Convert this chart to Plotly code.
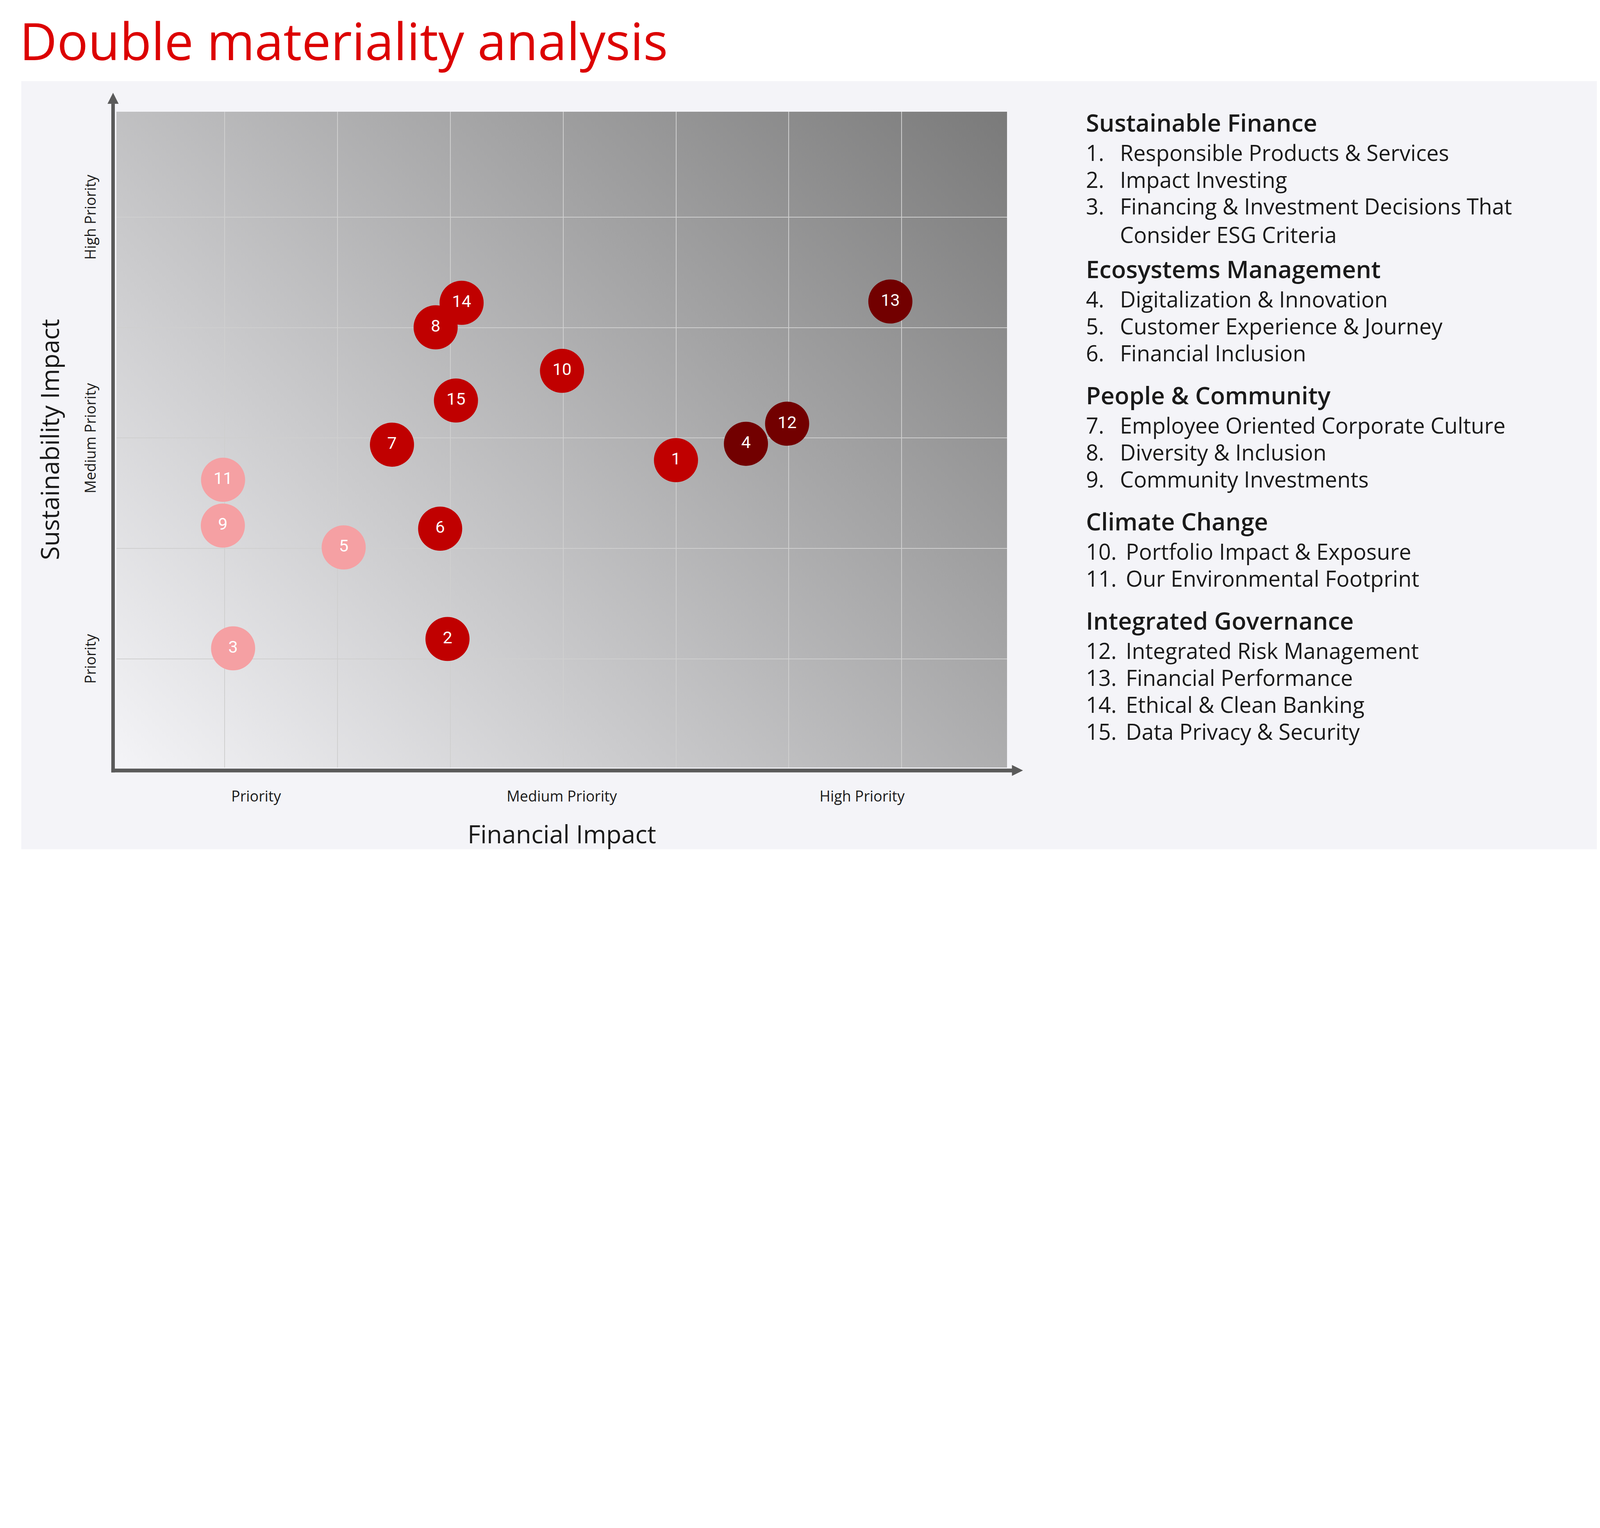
import base64
import plotly.graph_objects as go

# ---------------- data ----------------
topic_ids = [1, 2, 3, 4, 5, 6, 7, 8, 9, 10, 11, 12, 13, 14, 15]
financial_impact = [5.00, 2.975, 1.075, 5.62, 2.055, 2.91, 2.483, 2.87, 0.984, 3.99, 0.986, 5.985, 6.90, 3.10, 3.05]
sustainability_impact = [2.80, 1.18, 1.095, 2.948, 2.009, 2.179, 2.94, 4.003, 2.207, 3.609, 2.622, 3.13, 4.237, 4.225, 3.34]
topic_level = ["mid", "mid", "low", "top", "low", "mid", "mid", "mid", "low", "mid", "low", "top", "top", "mid", "mid"]

grid_x = [1, 2, 3, 4, 5, 6, 7]
grid_y = [1, 2, 3, 4, 5]
x_label_vals = [1.28, 3.99, 6.65]
x_label_text = ["Priority", "Medium Priority", "High Priority"]
y_label_vals = [1, 3, 5]
y_label_text = ["Priority", "Medium Priority", "High Priority"]

title_text = "Double materiality analysis"
x_title = "Financial Impact"
y_title = "Sustainability Impact"

group_names = ["Sustainable Finance", "Ecosystems Management", "People & Community",
               "Climate Change", "Integrated Governance"]
item_group = [0, 0, 0, 1, 1, 1, 2, 2, 2, 3, 3, 4, 4, 4, 4]
item_text = [
    "Responsible Products & Services",
    "Impact Investing",
    "Financing & Investment Decisions That<br>Consider ESG Criteria",
    "Digitalization & Innovation",
    "Customer Experience & Journey",
    "Financial Inclusion",
    "Employee Oriented Corporate Culture",
    "Diversity & Inclusion",
    "Community Investments",
    "Portfolio Impact & Exposure",
    "Our Environmental Footprint",
    "Integrated Risk Management",
    "Financial Performance",
    "Ethical & Clean Banking",
    "Data Privacy & Security",
]

# ---------------- style / geometry ----------------
# geometry is laid out in reference pixels (7190 wide); D = reference px per CSS px
D = 1.7536
BODY = 8  # default page margin (CSS px)
FWc, FHc = 4084, 2215  # figure size in CSS px
L, R, T, B = 523, 4520, 501.5, 3445  # plot area in reference px
PW, PH = R - L, B - T
x_range = [0.0407, 7.934]
y_range = [0.0155, 5.956]

level_color = {"top": "#720000", "mid": "#C00000", "low": "#F5A0A3"}
AXIS_C = "#5A5A5A"
PANEL_C = "#F4F4F8"
TEXT_C = "#1A1A1A"
FONT = "Open Sans"
ITEM_SIZE = 98
HEAD_SIZE = 108


def sz(v):
    return v / D


def px(x):
    return (x - L) / PW


def py(y):
    return (B - y) / PH


# gradient background as an SVG image
svg = (
    f'<svg xmlns="http://www.w3.org/2000/svg" width="{PW}" height="{PH}" '
    f'viewBox="0 0 {PW} {PH}" preserveAspectRatio="none">'
    f'<defs><linearGradient id="g" gradientUnits="userSpaceOnUse" x1="0" y1="{PH}" '
    f'x2="{(PW + PH) / 2}" y2="{PH - (PW + PH) / 2}">'
    f'<stop offset="0" stop-color="#F4F4F7"/><stop offset="1" stop-color="#7A7A7A"/>'
    f'</linearGradient></defs><rect width="{PW}" height="{PH}" fill="url(#g)"/></svg>'
)
svg_uri = "data:image/svg+xml;base64," + base64.b64encode(svg.encode()).decode()

fig = go.Figure()
fig.add_trace(go.Scatter(
    x=financial_impact, y=sustainability_impact,
    mode="markers+text",
    text=[str(i) for i in topic_ids],
    textposition="middle center",
    textfont=dict(family="Roboto", size=sz(76), color="white"),
    marker=dict(size=sz(198), color=[level_color[l] for l in topic_level], line=dict(width=0), opacity=1),
    hoverinfo="skip", showlegend=False, cliponaxis=False,
))

shapes = []
# panel
shapes.append(dict(type="rect", xref="paper", yref="paper", x0=px(96), x1=px(7400), y0=py(3812), y1=py(364.5),
                   fillcolor=PANEL_C, line=dict(width=0), layer="below"))
# axes with arrows
shapes.append(dict(type="rect", xref="paper", yref="paper", x0=px(500), x1=px(516), y0=py(3467), y1=py(465),
                   fillcolor=AXIS_C, line=dict(width=0), layer="above"))
shapes.append(dict(type="path", xref="paper", yref="paper",
                   path=f"M {px(483)} {py(466)} L {px(533)} {py(466)} L {px(508)} {py(416.6)} Z",
                   fillcolor=AXIS_C, line=dict(width=0), layer="above"))
shapes.append(dict(type="rect", xref="paper", yref="paper", x0=px(500), x1=px(4543), y0=py(3467), y1=py(3450),
                   fillcolor=AXIS_C, line=dict(width=0), layer="above"))
shapes.append(dict(type="path", xref="paper", yref="paper",
                   path=f"M {px(4542)} {py(3433.5)} L {px(4542)} {py(3482.5)} L {px(4591.7)} {py(3458)} Z",
                   fillcolor=AXIS_C, line=dict(width=0), layer="above"))

ann = []
# title
ann.append(dict(text=title_text, x=px(84), y=py(180), xref="paper", yref="paper", xanchor="left",
                yanchor="middle", showarrow=False, font=dict(family=FONT, size=sz(232), color="#DC0000")))
# tick labels
for v, t in zip(x_label_vals, x_label_text):
    ann.append(dict(text=t, x=v, xref="x", y=py(3572), yref="paper", xanchor="center", yanchor="middle",
                    showarrow=False, font=dict(family=FONT, size=sz(66), color=TEXT_C)))
for v, t in zip(y_label_vals, y_label_text):
    ann.append(dict(text=t, y=v, yref="y", x=px(405), xref="paper", xanchor="center", yanchor="middle",
                    textangle=-90, showarrow=False, font=dict(family=FONT, size=sz(66), color=TEXT_C)))
# axis titles
ann.append(dict(text=x_title, x=0.5, xref="paper", y=py(3743), yref="paper", xanchor="center", yanchor="middle",
                showarrow=False, font=dict(family=FONT, size=sz(112), color=TEXT_C)))
ann.append(dict(text=y_title, y=0.5, yref="paper", x=px(222), xref="paper", xanchor="center", yanchor="middle",
                textangle=-90, showarrow=False, font=dict(family=FONT, size=sz(112), color=TEXT_C)))

# right-hand list
NUM_X, TXT_X1, TXT_X2 = 4870, 5024, 5050
LINE_H = 1.3 * ITEM_SIZE
cur = 548.7
gap = 0
for g, gname in enumerate(group_names):
    cur += gap
    ann.append(dict(text=gname, x=px(NUM_X), y=py(cur), xref="paper", yref="paper", xanchor="left",
                    yanchor="middle", showarrow=False,
                    font=dict(family=FONT, size=sz(HEAD_SIZE), color=TEXT_C, weight=600)))
    first = True
    for i, (gi, txt) in enumerate(zip(item_group, item_text)):
        if gi != g:
            continue
        cur += 135 if first else 120.5
        first = False
        num = topic_ids[i]
        ann.append(dict(text=f"{num}.", x=px(NUM_X), y=py(cur), xref="paper", yref="paper", xanchor="left",
                        yanchor="middle", showarrow=False, font=dict(family=FONT, size=sz(ITEM_SIZE), color=TEXT_C)))
        n_lines = txt.count("<br>") + 1
        extra = (n_lines - 1) * LINE_H
        tx = TXT_X1 if num < 10 else TXT_X2
        ann.append(dict(text=txt, x=px(tx), y=py(cur + extra / 2), xref="paper", yref="paper",
                        xanchor="left", yanchor="middle", align="left", showarrow=False,
                        font=dict(family=FONT, size=sz(ITEM_SIZE), color=TEXT_C)))
        cur += extra
    gap = 190 if n_lines == 1 else 155

fig.update_layout(
    width=FWc, height=FHc,
    margin=dict(l=L / D - BODY, r=FWc - (R / D - BODY), t=T / D - BODY, b=FHc - (B / D - BODY), pad=0),
    paper_bgcolor="white", plot_bgcolor="rgba(0,0,0,0)",
    xaxis=dict(range=x_range, tickvals=grid_x, showticklabels=False, showgrid=True, gridcolor="#CFCFCF",
               gridwidth=sz(4), zeroline=False, showline=False, ticks="", fixedrange=True),
    yaxis=dict(range=y_range, tickvals=grid_y, showticklabels=False, showgrid=True, gridcolor="#CFCFCF",
               gridwidth=sz(4), zeroline=False, showline=False, ticks="", fixedrange=True),
    images=[dict(source=svg_uri, xref="x", yref="y", x=x_range[0], y=y_range[1],
                 sizex=x_range[1] - x_range[0], sizey=y_range[1] - y_range[0],
                 xanchor="left", yanchor="top", sizing="stretch", layer="below")],
    shapes=shapes, annotations=ann, showlegend=False,
)

fig.write_html("out.html")
